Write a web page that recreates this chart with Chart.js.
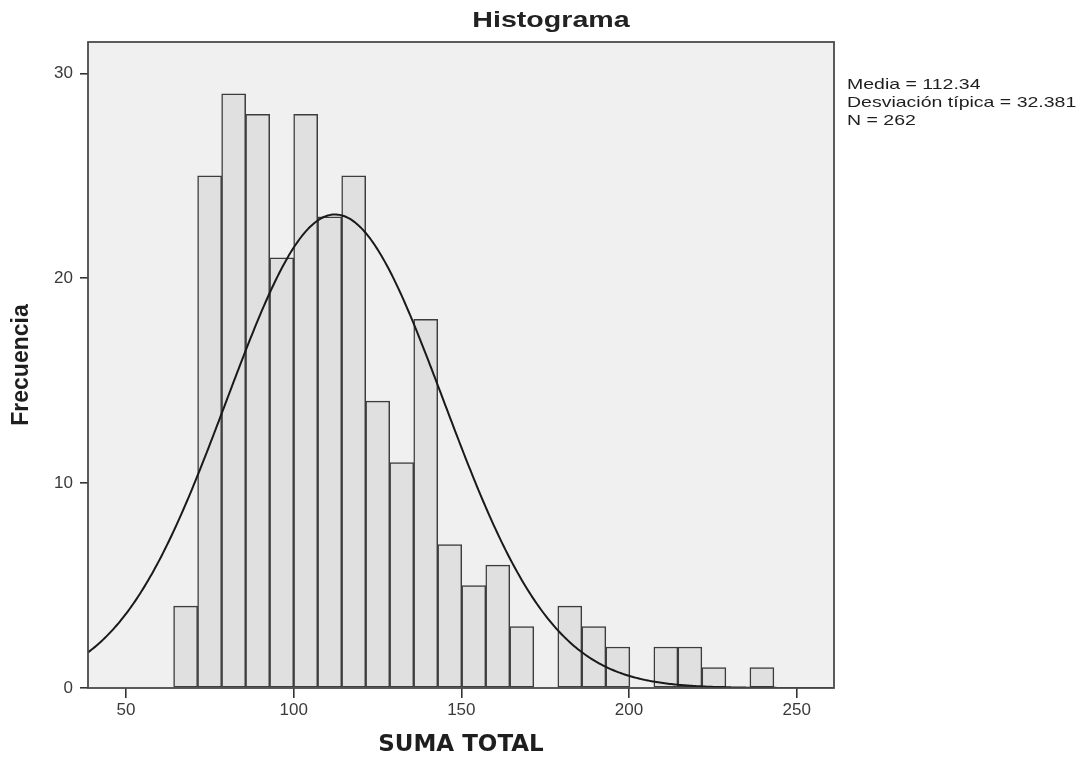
<!DOCTYPE html>
<html lang="es">

<head>
  <meta charset="UTF-8" />
  <title>Histograma - SUMA TOTAL</title>
  <script src="https://cdn.jsdelivr.net/npm/chart.js"></script>
  <style>
    body,
    html {
      margin: 0;
      background: #fff;
    }

    .lienzo {
      position: relative;
      width: 1078px;
      height: 759px;
    }

    .titulo {
      position: absolute;
      left: 551px;
      top: 9px;
      font: bold 22px 'Liberation Sans', Arial, sans-serif;
      line-height: 1;
      color: #222;
      white-space: nowrap;
      transform: translateX(-50%) scaleX(1.3);
    }

    .estadisticos {
      position: absolute;
      left: 847px;
      top: 75px;
      font: 15px 'Liberation Sans', Arial, sans-serif;
      line-height: 18px;
      color: #1e1e1e;
      white-space: nowrap;
      transform-origin: 0 0;
      transform: scaleX(1.3);
    }
  </style>
</head>

<body>
  <div class="lienzo">
    <canvas id="grafico" width="1078" height="759" role="img" aria-label="Histograma de SUMA TOTAL"></canvas>
    <div class="titulo">Histograma</div>
    <div class="estadisticos">Media = 112.34<br>Desviación típica = 32.381<br>N = 262</div>
  </div>

  <script>
    // centros de cada intervalo (ancho ~7.16)
    const binCenters = [67.78, 74.94, 82.10, 89.26, 96.42, 103.58, 110.74, 117.90, 125.06, 132.22,
      139.38, 146.54, 153.70, 160.86, 168.02, 175.18, 182.34, 189.50, 196.66, 203.82,
      210.98, 218.14, 225.30, 232.46, 239.62];
    const frecuencias = [4, 25, 29, 28, 21, 28, 23, 25, 14, 11, 18, 7, 5, 6, 3, 0, 4, 3, 2, 0, 2, 2, 1, 0, 1];
    const xTicks = [50, 100, 150, 200, 250];
    const yTicks = [0, 10, 20, 30];

    const media = 112.34;
    const desviacion = 32.381;
    const nCasos = 262;
    const anchoBin = 7.16;

    const xMin = 38.67, xMax = 261.12, yMax = 31.53;

    // curva normal con la media y desviación del gráfico
    const curva = [];
    for (let x = xMin; x <= xMax; x += 0.5) {
      const z = (x - media) / desviacion;
      curva.push({ x: x, y: nCasos * anchoBin * Math.exp(-0.5 * z * z) / (desviacion * Math.sqrt(2 * Math.PI)) });
    }

    const fondoPlot = {
      id: 'fondoPlot',
      beforeDraw(chart) {
        const { ctx, chartArea: a } = chart;
        ctx.save();
        ctx.fillStyle = '#f0f0f0';
        ctx.fillRect(a.left, a.top, a.width, a.height);
        ctx.restore();
      },
      afterDraw(chart) {
        const { ctx, chartArea: a } = chart;
        ctx.save();
        ctx.strokeStyle = '#4a4a4a';
        ctx.lineWidth = 1.8;
        ctx.strokeRect(a.left, a.top, a.width, a.height);
        ctx.restore();
      }
    };

    const fuenteTicks = { family: "'Liberation Sans', Arial, sans-serif", size: 17 };

    new Chart(document.getElementById('grafico'), {
      type: 'bar',
      data: {
        datasets: [{
          type: 'line',
          data: curva,
          borderColor: '#1a1a1a',
          borderWidth: 2,
          pointRadius: 0,
          fill: false,
          tension: 0,
          order: 0
        }, {
          type: 'bar',
          data: binCenters.map((c, i) => ({ x: c, y: frecuencias[i] })),
          backgroundColor: '#e0e0e0',
          borderColor: '#3d3d3d',
          borderWidth: 1.5,
          borderSkipped: false,
          barPercentage: 1,
          categoryPercentage: 1,
          grouped: false,
          order: 1
        }]
      },
      options: {
        responsive: false,
        animation: false,
        layout: { padding: { left: 0, top: 42, right: 244, bottom: 0 } },
        plugins: {
          legend: { display: false },
          tooltip: { enabled: false }
        },
        scales: {
          x: {
            type: 'linear',
            min: xMin,
            max: xMax,
            offset: false,
            afterBuildTicks: s => { s.ticks = xTicks.map(v => ({ value: v })); },
            afterFit: s => { s.height = 71; },
            grid: { display: true, offset: false, drawOnChartArea: false, drawTicks: true, tickLength: 10, tickColor: '#333', lineWidth: 1.6 },
            border: { display: false },
            ticks: { color: '#3a3a3a', font: fuenteTicks, padding: 2, maxRotation: 0, autoSkip: false },
            title: {
              display: true,
              text: 'SUMA TOTAL',
              color: '#1e1e1e',
              font: { family: "'DejaVu Sans', sans-serif", size: 23, weight: 'bold' },
              padding: { top: 0, bottom: 0 }
            }
          },
          y: {
            min: 0,
            max: yMax,
            afterBuildTicks: s => { s.ticks = yTicks.map(v => ({ value: v })); },
            afterFit: s => { s.width = 88; },
            grid: { display: true, drawOnChartArea: false, drawTicks: true, tickLength: 8, tickColor: '#333', lineWidth: 1.6 },
            border: { display: false },
            ticks: { color: '#3a3a3a', font: fuenteTicks, padding: 7 },
            title: {
              display: true,
              text: 'Frecuencia',
              color: '#1e1e1e',
              font: { family: "'Liberation Sans', Arial, sans-serif", size: 23, weight: 'bold' },
              padding: { top: 8, bottom: 0 }
            }
          }
        }
      },
      plugins: [fondoPlot]
    });
  </script>
</body>

</html>
